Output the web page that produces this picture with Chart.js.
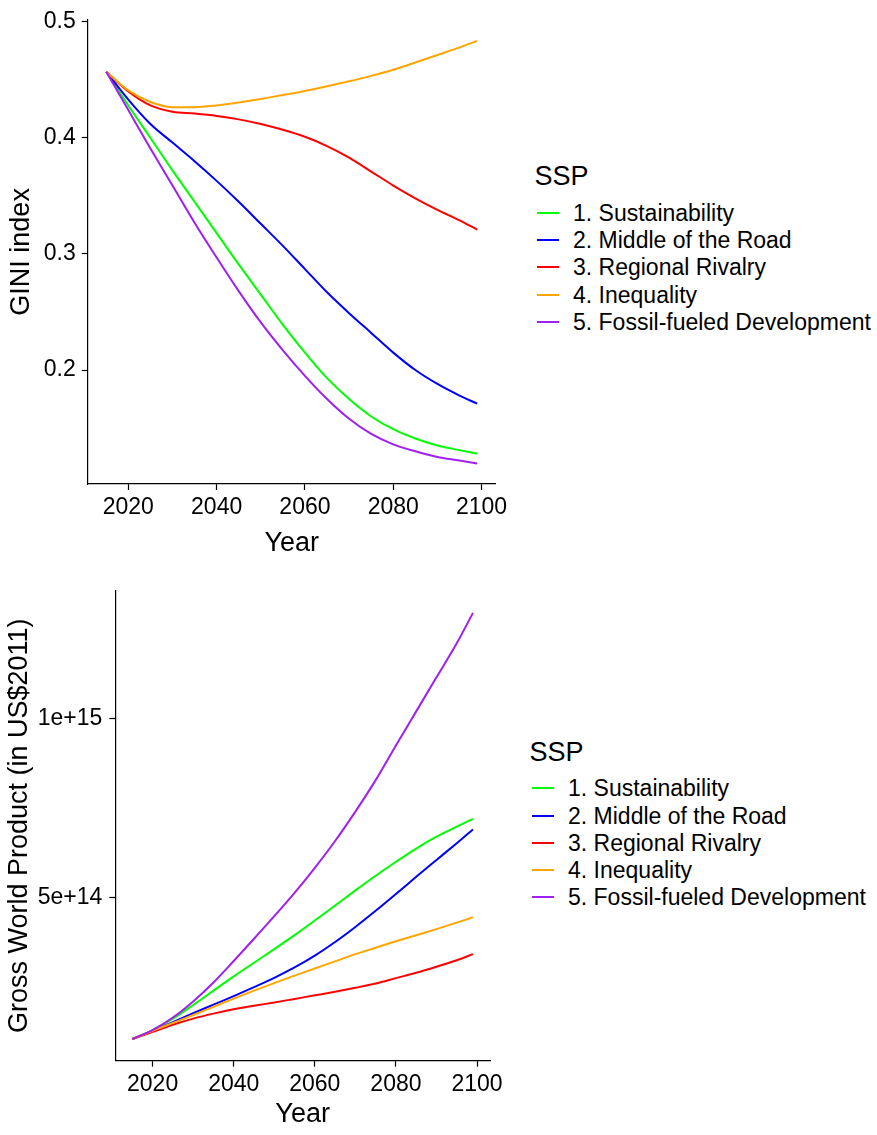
<!DOCTYPE html>
<html><head><meta charset="utf-8">
<script src="https://cdn.jsdelivr.net/npm/chart.js@4.4.0/dist/chart.umd.min.js"></script>
<style>
html,body{margin:0;padding:0;background:#fff;}
body{width:877px;height:1135px;position:relative;overflow:hidden;font-family:"Liberation Sans",Arial,sans-serif;}
canvas{position:absolute;left:0;}
.lt{position:absolute;color:#000;white-space:nowrap;font-size:27px;line-height:32px;height:32px;}
.li{position:absolute;color:#000;white-space:nowrap;font-size:23px;line-height:26px;height:26px;}
.lk{position:absolute;height:2px;}
</style></head><body>
<canvas id="c1" width="520" height="565" style="top:0px"></canvas>
<canvas id="c2" width="520" height="565" style="top:570px"></canvas>
<div id="legends"></div>
<script>
// ---- data ----
const years = [2015,2020,2025,2030,2035,2040,2045,2050,2055,2060,2065,2070,2075,2080,2085,2090,2095,2099];
const sspNames = ['1. Sustainability','2. Middle of the Road','3. Regional Rivalry','4. Inequality','5. Fossil-fueled Development'];
const sspColors = ['#00FF00','#0000FF','#FF0000','#FFA500','#A020F0'];

const giniSSP1 = [0.457,0.428,0.400,0.372,0.345,0.318,0.291,0.265,0.239,0.215,0.193,0.175,0.160,0.149,0.141,0.135,0.131,0.128];
const giniSSP2 = [0.457,0.433,0.412,0.396,0.380,0.363,0.345,0.326,0.307,0.287,0.267,0.249,0.232,0.215,0.200,0.188,0.178,0.171];
const giniSSP3 = [0.457,0.440,0.428,0.4225,0.421,0.419,0.416,0.412,0.407,0.401,0.393,0.383,0.371,0.359,0.348,0.338,0.329,0.321];
const giniSSP4 = [0.457,0.441,0.431,0.4265,0.4265,0.428,0.4305,0.4335,0.437,0.4405,0.4445,0.4488,0.4535,0.4588,0.465,0.4715,0.478,0.4836];
const giniSSP5 = [0.457,0.424,0.391,0.359,0.327,0.297,0.268,0.241,0.217,0.195,0.175,0.158,0.145,0.136,0.130,0.125,0.122,0.1194];

const gdpSSP1 = [1.05e14,1.30e14,1.62e14,2.00e14,2.40e14,2.80e14,3.18e14,3.56e14,3.95e14,4.36e14,4.78e14,5.20e14,5.61e14,6.00e14,6.37e14,6.70e14,6.98e14,7.20e14];
const gdpSSP2 = [1.05e14,1.28e14,1.52e14,1.77e14,2.01e14,2.25e14,2.50e14,2.76e14,3.05e14,3.38e14,3.76e14,4.18e14,4.63e14,5.10e14,5.58e14,6.05e14,6.52e14,6.90e14];
const gdpSSP3 = [1.05e14,1.25e14,1.45e14,1.62e14,1.76e14,1.88e14,1.98e14,2.07e14,2.17e14,2.27e14,2.37e14,2.48e14,2.60e14,2.75e14,2.90e14,3.07e14,3.25e14,3.42e14];
const gdpSSP4 = [1.05e14,1.28e14,1.50e14,1.72e14,1.95e14,2.18e14,2.40e14,2.61e14,2.82e14,3.02e14,3.22e14,3.42e14,3.60e14,3.78e14,3.95e14,4.12e14,4.30e14,4.45e14];
const gdpSSP5 = [1.05e14,1.30e14,1.65e14,2.10e14,2.63e14,3.23e14,3.85e14,4.48e14,5.13e14,5.83e14,6.58e14,7.40e14,8.28e14,9.25e14,10.2e14,11.15e14,12.1e14,12.95e14];

const yearTicks = [2020,2040,2060,2080,2100];
const yearTickLabels = ['2020','2040','2060','2080','2100'];
const giniTicks = [0.2,0.3,0.4,0.5];
const giniTickLabels = ['0.2','0.3','0.4','0.5'];
const gdpTicks = [5e14,1e15];
const gdpTickLabels = ['5e+14','1e+15'];

// ---- drawing ----
const FONT = '"Liberation Sans", Arial, sans-serif';
function build(id, series, cfg){
  new Chart(document.getElementById(id), {
    type:'line',
    data:{datasets: series.map((s,i)=>({
      label: sspNames[i],
      data: years.map((y,j)=>({x:y, y:s[j]})),
      borderColor: sspColors[i], backgroundColor: sspColors[i],
      borderWidth: 2, pointRadius: 0, fill: false,
      cubicInterpolationMode: 'monotone',
      order: series.length - i
    }))},
    options:{
      responsive:false, animation:false, devicePixelRatio:1,
      layout:{padding:{left:0, top:cfg.top, right:cfg.right, bottom:0}},
      plugins:{legend:{display:false}, tooltip:{enabled:false}},
      scales:{
        x:{type:'linear', bounds:'data', min:2010.8, max:2103.2,
          afterBuildTicks: a=>{ a.ticks = yearTicks.map(v=>({value:v})); },
          afterFit: s=>{ s.height = cfg.xh; },
          ticks:{autoSkip:false, maxRotation:0, padding:4, color:'#000', font:{family:FONT, size:23},
            callback: v => yearTickLabels[yearTicks.indexOf(v)] },
          grid:{drawOnChartArea:false, drawTicks:true, tickLength:6, tickColor:'#000', tickWidth:1.2},
          border:{display:true, color:'#000', width:1.2},
          title:{display:true, text:'Year', color:'#000', font:{family:FONT, size:27}, padding:{top:0, bottom:cfg.xtp}}
        },
        y:{type:'linear', bounds:'data', min:cfg.ymin, max:cfg.ymax,
          afterBuildTicks: a=>{ a.ticks = cfg.yt.map(v=>({value:v})); },
          afterFit: s=>{ s.width = cfg.yw; },
          ticks:{autoSkip:false, padding:cfg.ypad, color:'#000', font:{family:FONT, size:23},
            callback: v => cfg.ytl[cfg.yt.indexOf(v)] },
          grid:{drawOnChartArea:false, drawTicks:true, tickLength:6, tickColor:'#000', tickWidth:1.2},
          border:{display:true, color:'#000', width:1.2},
          title:{display:true, text:cfg.ytitle, color:'#000', font:{family:FONT, size:27}, padding:{top:cfg.ytp, bottom:0}}
        }
      }
    }
  });
}

build('c1', [giniSSP1,giniSSP2,giniSSP3,giniSSP4,giniSSP5], {
  top:12.7, right:24.3, xh:81, xtp:5.5, ymin:0.1018, ymax:0.5018, yt:giniTicks, ytl:giniTickLabels,
  yw:87.7, ypad:6, ytitle:'GINI index', ytp:5.5
});
build('c2', [gdpSSP1,gdpSSP2,gdpSSP3,gdpSSP4,gdpSSP5], {
  top:18, right:30, xh:74.3, xtp:4.5, ymin:4.45e13, ymax:1.3567e15, yt:gdpTicks, ytl:gdpTickLabels,
  yw:115.3, ypad:7, ytitle:'Gross World Product (in US$2011)', ytp:3.8
});

// ---- legends ----
function legend(titleX, titleY, keyX, textX, y0, step){
  const root = document.getElementById('legends');
  const t = document.createElement('div');
  t.className='lt'; t.textContent='SSP';
  t.style.left = titleX+'px'; t.style.top = (titleY-16)+'px';
  root.appendChild(t);
  sspNames.forEach((n,i)=>{
    const cy = y0 + step*i;
    const k = document.createElement('div');
    k.className='lk'; k.style.background = sspColors[i];
    k.style.left = keyX+'px'; k.style.width='22px'; k.style.top=(cy-1)+'px';
    root.appendChild(k);
    const d = document.createElement('div');
    d.className='li'; d.textContent = n;
    d.style.left = textX+'px'; d.style.top = (cy-13)+'px';
    root.appendChild(d);
  });
}
legend(534.5, 175.8, 537, 573, 212.6, 27.3);
legend(529.4, 751.7, 531.7, 568, 788.4, 27.25);
</script>
</body></html>
